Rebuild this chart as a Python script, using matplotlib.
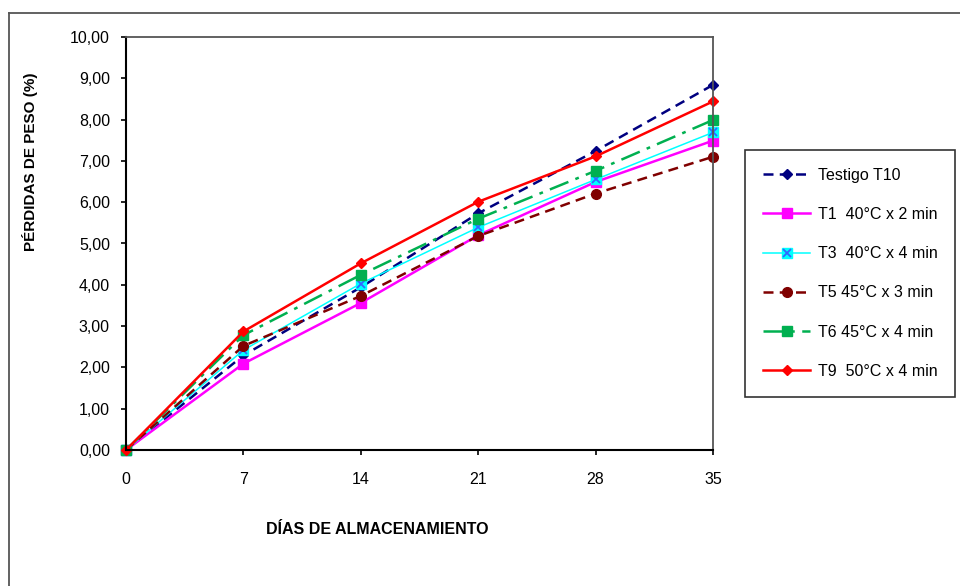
import matplotlib.pyplot as plt
from matplotlib.lines import Line2D
from matplotlib.legend_handler import HandlerTuple
from matplotlib.ticker import FuncFormatter

plt.rcParams['font.family'] = ['Liberation Sans', 'DejaVu Sans']

days = [0, 7, 14, 21, 28, 35]
testigo = [0, 2.29, 3.94, 5.73, 7.24, 8.84]
t1 = [0, 2.09, 3.56, 5.20, 6.49, 7.49]
t3 = [0, 2.42, 4.03, 5.39, 6.55, 7.69]
t5 = [0, 2.52, 3.73, 5.18, 6.21, 7.10]
t6 = [0, 2.78, 4.24, 5.60, 6.76, 7.99]
t9 = [0, 2.87, 4.52, 6.01, 7.11, 8.44]

labels = ['Testigo T10', 'T1  40°C x 2 min', 'T3  40°C x 4 min',
          'T5 45°C x 3 min', 'T6 45°C x 4 min', 'T9  50°C x 4 min']

fig = plt.figure(figsize=(9.6, 5.86), dpi=100)
ax = fig.add_axes([126 / 960, 1 - 450 / 586, (713 - 126) / 960, (450 - 37) / 586])

h0, = ax.plot(days, testigo, color='#000080', ls=(0, (4, 2.5)), lw=1.8,
              marker='D', ms=5.5, clip_on=False)
h1, = ax.plot(days, t1, color='#FF00FF', ls='-', lw=1.8,
              marker='s', ms=7, clip_on=False)
h2, = ax.plot(days, t3, color='#00FFFF', ls='-', lw=1.1,
              marker='s', ms=7, clip_on=False)
h2x, = ax.plot(days, t3, ls='none', marker='x', ms=6, mew=1.3,
               color='#3366FF', clip_on=False)
h3, = ax.plot(days, t5, color='#800000', ls=(0, (4, 2.5)), lw=1.8,
              marker='o', ms=7, clip_on=False)
h4, = ax.plot(days, t6, color='#00B050', ls=(0, (8, 3, 1.5, 3)), lw=1.8,
              marker='s', ms=6.5, clip_on=False)
h5, = ax.plot(days, t9, color='#FF0000', ls='-', lw=1.8,
              marker='D', ms=5, clip_on=False)

ax.set_xlim(0, 35)
ax.set_ylim(0, 10)
ax.set_xticks(days)
ax.set_yticks(range(0, 11))
ax.yaxis.set_major_formatter(FuncFormatter(lambda v, p: f'{v:.2f}'.replace('.', ',')))
ax.tick_params(direction='out', length=3.6, width=1.2, labelsize=11.5)
ax.tick_params(axis='y', pad=8)
ax.tick_params(axis='x', pad=12)

for s in ['left', 'bottom']:
    ax.spines[s].set_linewidth(1.5)
    ax.spines[s].set_color('black')
for s in ['top', 'right']:
    ax.spines[s].set_linewidth(1.3)
    ax.spines[s].set_color('#555555')

fig.text(30 / 960, 1 - 162 / 586, 'PÉRDIDAS DE PESO (%)', rotation=90,
         ha='center', va='center', fontsize=11, fontweight='bold')
fig.text(377 / 960, 1 - 529 / 586, 'DÍAS DE ALMACENAMIENTO',
         ha='center', va='center', fontsize=11.5, fontweight='bold')

# outer chart frame (cut off on right and bottom)
fig.add_artist(Line2D([9 / 960, 9 / 960], [0, 1 - 13 / 586],
                      transform=fig.transFigure, color='#555555', lw=1.3))
fig.add_artist(Line2D([9 / 960, 1], [1 - 13 / 586, 1 - 13 / 586],
                      transform=fig.transFigure, color='#555555', lw=1.3))

leg = fig.legend([h0, h1, (h2, h2x), h3, h4, h5], labels,
                 handler_map={tuple: HandlerTuple(ndivide=1)},
                 loc='upper left', bbox_to_anchor=(745 / 960, 1 - 150 / 586),
                 fontsize=11.5, frameon=True, fancybox=False, edgecolor='black',
                 labelspacing=1.52, handlelength=3.0, handletextpad=0.45,
                 borderpad=1.1, borderaxespad=0)
leg.get_frame().set_linewidth(1.2)

fig.savefig('out.png', dpi=100)
